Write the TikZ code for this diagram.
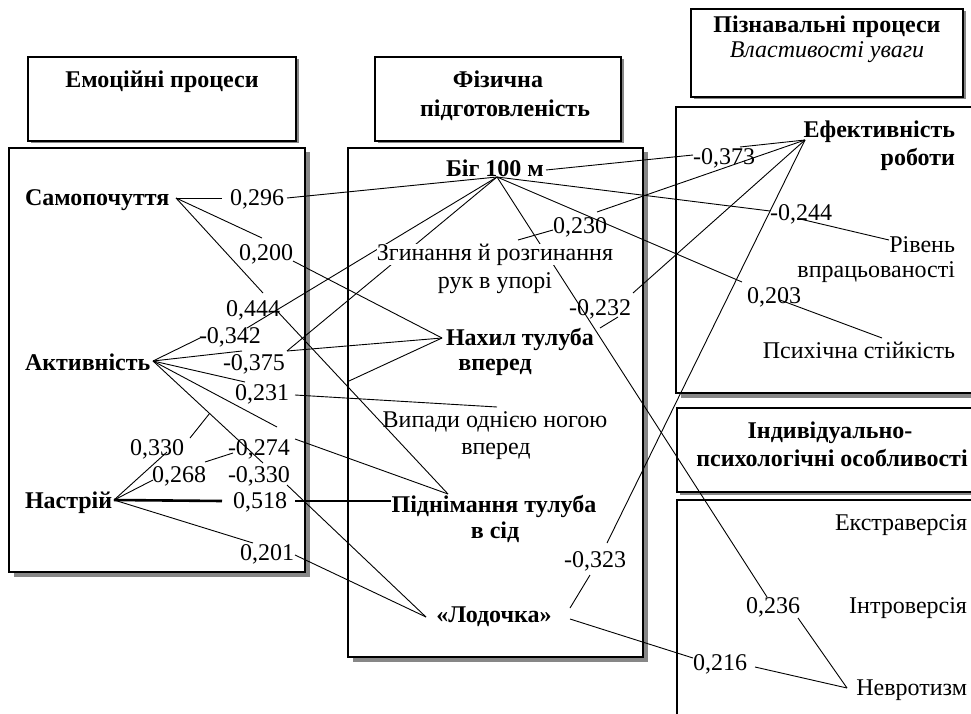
\documentclass[tikz,border=0pt]{standalone}
\usepackage{fontspec}
\setmainfont{Liberation Serif}
\definecolor{shd}{RGB}{135,135,135}
\newcommand\myshbox[5]{%
  \fill[shd] (#1+#5,#2+#5) rectangle (#3+#5,#4+#5);
  \draw[boxline] (#1,#2) rectangle (#3,#4);}
\begin{document}
\begin{tikzpicture}[x=1pt,y=-1pt,
  txt/.style={font=\fontsize{24}{28}\selectfont, inner sep=0pt, outer sep=0pt},
  bt/.style={font=\fontsize{24}{28}\selectfont\bfseries, inner sep=0pt, outer sep=0pt},
  it/.style={font=\fontsize{24}{28}\selectfont\itshape, inner sep=0pt, outer sep=0pt},
  conn/.style={line width=0.9pt, black},
  boldconn/.style={line width=2.6pt, black},
  boxline/.style={draw=black, line width=1.1pt, fill=white}]
\useasboundingbox (0,0) rectangle (971,714);
\clip (0,0) rectangle (971,714);
\fill[white] (0,0) rectangle (971,714);

% boxes
\myshbox{28}{57}{296}{141}{2.5}
\myshbox{9}{148}{305}{572}{4.5}
\myshbox{375}{57}{621}{141}{2.5}
\myshbox{348}{148}{643}{657}{4.5}
\myshbox{691}{9}{963}{97}{2.5}
\myshbox{676}{107}{1000}{393}{4.5}
\myshbox{677}{408}{1000}{492}{2.5}
\myshbox{677}{500}{1000}{760}{4.5}

% anchor points
\coordinate (S) at (176,198);
\coordinate (A) at (153,361);
\coordinate (N) at (114,500);
\coordinate (s296a) at (222,198); \coordinate (s296b) at (287,198);
\coordinate (s200a) at (262,238); \coordinate (s200b) at (293,261);
\coordinate (s444a) at (263,293); \coordinate (s444b) at (278,312);
\coordinate (a342a) at (200,338); \coordinate (a342b) at (247,328);
\coordinate (a375a) at (242,351); \coordinate (a375b) at (287,351);
\coordinate (a231a) at (245,382); \coordinate (a231b) at (295,395);
\coordinate (a274a) at (277,427); \coordinate (a274b) at (295,439);
\coordinate (a330a) at (263,463); \coordinate (a330b) at (287,485);
\coordinate (n330a) at (167,452); \coordinate (n330b) at (190,438);
\coordinate (n268a) at (153,480); \coordinate (n268b) at (205,462); \coordinate (n268c) at (233,453);
\coordinate (n518a) at (222,501); \coordinate (n518b) at (295,501);
\coordinate (n201a) at (253,543); \coordinate (n201b) at (295,555);
\coordinate (B) at (497,177);  \coordinate (Bm) at (546,170);
\coordinate (Z) at (518,240);  \coordinate (H) at (442,338);
\coordinate (Hl) at (349,381); \coordinate (Hr) at (600,328);
\coordinate (V) at (497,407);  \coordinate (P) at (448,494);
\coordinate (Pl) at (391,501); \coordinate (L) at (426,617);
\coordinate (Lr1) at (570,608); \coordinate (Lr2) at (570,619);
\coordinate (z230a) at (553,230); \coordinate (z230b) at (597,212);
\coordinate (h232a) at (618,317); \coordinate (h232b) at (633,293);
\coordinate (l323a) at (590,575); \coordinate (l323b) at (607,543);
\coordinate (E) at (805,140); \coordinate (R) at (889,240);
\coordinate (Ps) at (882,338); \coordinate (Nv) at (847,688);
\coordinate (b373a) at (693,155); \coordinate (b373b) at (740,147);
\coordinate (b244a) at (770,211); \coordinate (b244b) at (800,219);
\coordinate (b203a) at (742,282); \coordinate (b203b) at (780,300);
\coordinate (b236a) at (767,597); \coordinate (b236b) at (798,618);
\coordinate (l216a) at (693,658); \coordinate (l216b) at (755,667);
\coordinate (J) at (intersection of N--n330a and A--a330a);

% connectors
\draw[conn] (S) -- (s296a); \draw[conn] (s296b) -- (B);
\draw[conn] (S) -- (s200a); \draw[conn] (s200b) -- (H);
\draw[conn] (S) -- (s444a); \draw[conn] (s444b) -- (P);
\draw[conn] (A) -- (a342a); \draw[conn] (a342b) -- (B);
\draw[conn] (A) -- (a375a); \draw[conn] (a375b) -- (H);
\draw[conn] (a375b) -- (B);
\draw[conn] (A) -- (a231a); \draw[conn] (a231b) -- (V);
\draw[conn] (A) -- (a274a); \draw[conn] (a274b) -- (P);
\draw[conn] (A) -- (a330a); \draw[conn] (a330b) -- (L);
\draw[conn] (N) -- (n330a); \draw[conn] (n330b) -- (J);
\draw[conn] (N) -- (n268a); \draw[conn] (n268b) -- (n268c);
\draw[conn] (Hl) -- (H);
\draw[boldconn] (N) -- (n518a); \draw[boldconn] (n518b) -- (Pl);
\draw[conn] (N) -- (n201a); \draw[conn] (n201b) -- (L);
\draw[conn] (Bm) -- (b373a); \draw[conn] (b373b) -- (E);
\draw[conn] (Z) -- (z230a); \draw[conn] (z230b) -- (E);
\draw[conn] (Hr) -- (h232a); \draw[conn] (h232b) -- (E);
\draw[conn] (Lr1) -- (l323a); \draw[conn] (l323b) -- (E);
\draw[conn] (B) -- (b244a); \draw[conn] (b244b) -- (R);
\draw[conn] (B) -- (b203a); \draw[conn] (b203b) -- (Ps);
\draw[conn] (B) -- (b236a); \draw[conn] (b236b) -- (Nv);
\draw[conn] (Lr2) -- (l216a); \draw[conn] (l216b) -- (Nv);

% headers
\node[bt, anchor=base] (hemo) at (162,88) {Емоційні процеси};
\node[bt, anchor=base] (hfiz1) at (498,88) {Фізична};
\node[bt, anchor=base] (hfiz2) at (505,117) {підготовленість};
\node[bt, anchor=base] (hpiz1) at (827,33) {Пізнавальні процеси};
\node[it, anchor=base] (hpiz2) at (827,58) {Властивості уваги};
\node[bt, anchor=base] (hind1) at (830,438) {Індивідуально-};
\node[bt, anchor=base] (hind2) at (832,466) {психологічні особливості};

% left box
\node[bt, anchor=base west] (samo) at (25,205) {Самопочуття};
\node[bt, anchor=base west] (aktiv) at (25,370) {Активність};
\node[bt, anchor=base west] (nastr) at (25,508) {Настрій};
\node[txt, anchor=base west] (l296) at (230,205) {0,296};
\node[txt, anchor=base west] (l200) at (239,260) {0,200};
\node[txt, anchor=base west] (l444) at (226,316) {0,444};
\node[txt, anchor=base west] (l342) at (199,343) {-0,342};
\node[txt, anchor=base west] (l375) at (223,370) {-0,375};
\node[txt, anchor=base west] (l231) at (235,400) {0,231};
\node[txt, anchor=base west] (l330a) at (130,455) {0,330};
\node[txt, anchor=base west] (l274) at (228,455) {-0,274};
\node[txt, anchor=base west] (l268) at (152,482) {0,268};
\node[txt, anchor=base west] (l330b) at (228,482) {-0,330};
\node[txt, anchor=base west] (l518) at (233,508) {0,518};
\node[txt, anchor=base west] (l201) at (240,560) {0,201};

% middle box
\node[bt, anchor=base west] (big) at (446,177) {Біг 100 м};
\node[txt, anchor=base west] (l230) at (553,233) {0,230};
\node[txt, anchor=base, fill=white] (zg1) at (495,260) {Згинання й розгинання};
\node[txt, anchor=base] (zg2) at (495,288) {рук в упорі};
\node[txt, anchor=base west] (l232) at (569,315) {-0,232};
\node[bt, anchor=base west] (nah1) at (446,345) {Нахил тулуба};
\node[bt, anchor=base] (nah2) at (495,370) {вперед};
\node[txt, anchor=base] (vyp1) at (495,427) {Випади однією ногою};
\node[txt, anchor=base] (vyp2) at (496,454) {вперед};
\node[bt, anchor=base] (pid1) at (494,512) {Піднімання тулуба};
\node[bt, anchor=base] (pid2) at (495,538) {в сід};
\node[txt, anchor=base west] (l323) at (564,567) {-0,323};
\node[bt, anchor=base] (lod) at (494,622) {«Лодочка»};

% right boxes
\node[bt, anchor=base east] (ef1) at (955,138) {Ефективність};
\node[bt, anchor=base east] (ef2) at (955,166) {роботи};
\node[txt, anchor=base west] (l373) at (693,165) {-0,373};
\node[txt, anchor=base west] (l244) at (770,220) {-0,244};
\node[txt, anchor=base east] (riv1) at (955,252) {Рівень};
\node[txt, anchor=base east] (riv2) at (955,277) {впрацьованості};
\node[txt, anchor=base west] (l203) at (747,303) {0,203};
\node[txt, anchor=base east] (psy) at (955,358) {Психічна стійкість};
\node[txt, anchor=base east] (ext) at (967,530) {Екстраверсія};
\node[txt, anchor=base west] (l236) at (746,613) {0,236};
\node[txt, anchor=base east] (intr) at (967,613) {Інтроверсія};
\node[txt, anchor=base west] (l216) at (693,670) {0,216};
\node[txt, anchor=base east] (nevr) at (967,695) {Невротизм};
\end{tikzpicture}
\end{document}
